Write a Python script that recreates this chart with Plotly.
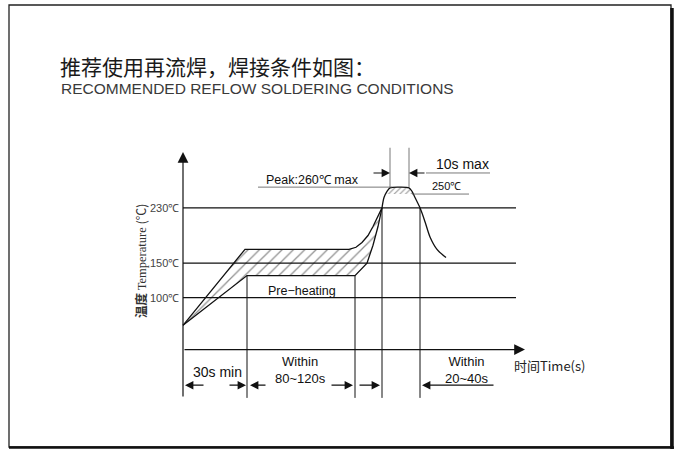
import numpy as np
import plotly.graph_objects as go

# ---------------- data (schematic reflow profile, time in s, temperature in degC) -------------
levels = [100, 150, 230]
level_labels = ["100℃", "150℃", "230℃"]

upper_t = [0, 62, 166, 173, 179, 185, 190, 195, 199]
upper_T = [60, 170, 170, 173, 180, 190, 203, 218, 230]

lower_t = [0, 64, 172, 177, 184, 190, 195, 199]
lower_T = [60, 132, 132, 140, 150, 176, 203, 230]

peak_t = [199, 201, 204, 207, 216, 226, 229, 232, 237, 242, 247, 254, 263]
peak_T = [230, 245, 254, 259, 260, 259, 254, 245, 230, 210, 188, 170, 158]

peak_max = 260
peak_ref = 250
room_T = 25

bound_t = [64, 172, 199, 237]      # phase boundaries (vertical lines)
bound_T = [132, 132, 230, 230]
ten_s_t = [207, 226]               # 10 s max window

# ---------------- layout helpers -------------
X_RANGE = [-183, 497]
Y_RANGE = [-121.85, 530.83]
BOTTOM = -45
AX_END = 333
INK = "#111111"
EN_FONT = "Liberation Sans"
CJK_FONT = "Noto Sans CJK SC"

fig = go.Figure()

pat = dict(shape="/", fgcolor="#222222", bgcolor="rgba(0,0,0,0)", size=8, solidity=0.16,
           fillmode="overlay")

# hatched soak zone
fig.add_trace(go.Scatter(x=upper_t + lower_t[::-1], y=upper_T + lower_T[::-1], mode="lines",
                         fill="toself", fillcolor="rgba(0,0,0,0)", fillpattern=pat,
                         line=dict(width=0), hoverinfo="skip"))

# hatched dome above 250
pt = np.array(peak_t, float)
pT = np.array(peak_T, float)
imax = int(np.argmax(pT))
t_a = np.interp(peak_ref, pT[:imax + 1], pt[:imax + 1])
t_b = np.interp(peak_ref, pT[imax:][::-1], pt[imax:][::-1])
mask = pT >= peak_ref
dome_x = [t_a] + list(pt[mask]) + [t_b]
dome_y = [peak_ref] + list(pT[mask]) + [peak_ref]
fig.add_trace(go.Scatter(x=dome_x, y=dome_y, mode="lines", fill="toself",
                         fillcolor="rgba(0,0,0,0)", fillpattern=dict(pat, size=4, solidity=0.25),
                         line=dict(width=0), hoverinfo="skip"))

# gridlines
for lv in levels:
    fig.add_shape(type="line", x0=0, x1=AX_END, y0=lv, y1=lv, xref="x", yref="y",
                  line=dict(color=INK, width=1.3))

# vertical phase boundaries
for t, T in zip(bound_t, bound_T):
    fig.add_shape(type="line", x0=t, x1=t, y0=T, y1=BOTTOM, xref="x", yref="y",
                  line=dict(color=INK, width=1))
for t in ten_s_t:
    fig.add_shape(type="line", x0=t, x1=t, y0=peak_max, y1=317, xref="x", yref="y",
                  line=dict(color="#555555", width=0.8))

# curves
fig.add_trace(go.Scatter(x=upper_t, y=upper_T, mode="lines",
                         line=dict(color=INK, width=1.3), hoverinfo="skip"))
fig.add_trace(go.Scatter(x=lower_t, y=lower_T, mode="lines",
                         line=dict(color=INK, width=1.3), hoverinfo="skip"))
fig.add_trace(go.Scatter(x=peak_t, y=peak_T, mode="lines",
                         line=dict(color=INK, width=1.3, shape="spline", smoothing=0.8),
                         hoverinfo="skip"))

# peak reference lines
fig.add_shape(type="line", x0=75, x1=ten_s_t[0] + 2, y0=peak_max, y1=peak_max,
              line=dict(color="#555555", width=0.8))
fig.add_shape(type="line", x0=ten_s_t[1] + 3, x1=286, y0=peak_ref, y1=peak_ref,
              line=dict(color="#555555", width=0.8))
fig.add_shape(type="line", x0=243, x1=307, y0=280.5, y1=280.5,
              line=dict(color="#555555", width=0.8))

ann = []


def arrow(x, y, ax, ay, size=1.6, width=1.2):
    ann.append(dict(x=x, y=y, ax=ax, ay=ay, xref="x", yref="y", axref="x", ayref="y",
                    text="", showarrow=True, arrowhead=2, arrowsize=size,
                    arrowwidth=width, arrowcolor=INK, standoff=0, startstandoff=0))


def text(x, y, s, size=11, xanchor="center", color=INK, font=EN_FONT, angle=0):
    ann.append(dict(x=x, y=y, xref="x", yref="y", text=s, showarrow=False,
                    xanchor=xanchor, yanchor="middle", textangle=angle,
                    font=dict(size=size, color=color, family=font)))


# axes
arrow(0, 311, 0, BOTTOM, size=1.8, width=1.2)
arrow(342, room_T, 0, room_T, size=1.8, width=1.2)

# y tick labels
for lv, lb in zip(levels, level_labels):
    text(-2, lv, lb, size=11, xanchor="right", color="#444444")

# axis titles
text(-43, 153, "<b>温度</b> <span style='font-family:Liberation Serif'>Temperature</span> (℃)",
     size=12.5, color="#333333", font=CJK_FONT, angle=-90)
text(366, 2.6, "时间Time(s)", size=13, color="#222222", font=CJK_FONT)

# top annotations
arrow(ten_s_t[0], 280.5, 189, 280.5, size=1.4)
arrow(ten_s_t[1], 280.5, 243, 280.5, size=1.4)
text(279, 294, "10s max", size=14)
text(129, 270, "Peak:260℃ max", size=12.5)
text(263, 261, "250℃", size=11)
text(119, 110, "Pre−heating", size=12.5)

# bottom timing annotations
ROW = -26.6
arrow(2, ROW, 22, ROW, size=1.4)
arrow(63, ROW, 45, ROW, size=1.4)
text(34, -7, "30s min", size=14)
arrow(67, ROW, 84, ROW, size=1.4)
arrow(170, ROW, 147, ROW, size=1.4)
text(117, -5, "Within<br>80~120s", size=13)
arrow(197, ROW, 175, ROW, size=1.4)
arrow(239, ROW, 312, ROW, size=1.4)
text(284, -5, "Within<br>20~40s", size=13)

# titles (paper coordinates)
ann.append(dict(x=58 / 680, y=1 - 66 / 451, xref="paper", yref="paper", showarrow=False,
                text="推荐使用再流焊，焊接条件如图：", xanchor="left", yanchor="middle",
                font=dict(size=21, color="#1a1a1a", family=CJK_FONT)))
ann.append(dict(x=59 / 680, y=1 - 89 / 451, xref="paper", yref="paper", showarrow=False,
                text="RECOMMENDED REFLOW SOLDERING CONDITIONS", xanchor="left",
                yanchor="middle", font=dict(size=15.5, color="#3a3a3a", family=EN_FONT)))

# frame
shapes_frame = [
    dict(type="rect", xref="paper", yref="paper", x0=9 / 680, x1=671 / 680,
         y0=1 - 447 / 451, y1=1 - 5 / 451, line=dict(color="#222222", width=1.3)),
    dict(type="line", xref="paper", yref="paper", x0=672 / 680, x1=672 / 680,
         y0=1 - 449 / 451, y1=1 - 8 / 451, line=dict(color="#111111", width=3.5)),
    dict(type="line", xref="paper", yref="paper", x0=9 / 680, x1=674 / 680,
         y0=1 - 447.5 / 451, y1=1 - 447.5 / 451, line=dict(color="#111111", width=2.5)),
]
for s in shapes_frame:
    fig.add_shape(**s)

fig.update_layout(
    width=680, height=451, margin=dict(l=0, r=0, t=0, b=0),
    paper_bgcolor="white", plot_bgcolor="white", showlegend=False,
    xaxis=dict(range=X_RANGE, visible=False, fixedrange=True),
    yaxis=dict(range=Y_RANGE, visible=False, fixedrange=True),
    annotations=ann,
)

fig.write_html("out.html", config={"displayModeBar": False},
               post_script="document.body.style.margin='0px';")
